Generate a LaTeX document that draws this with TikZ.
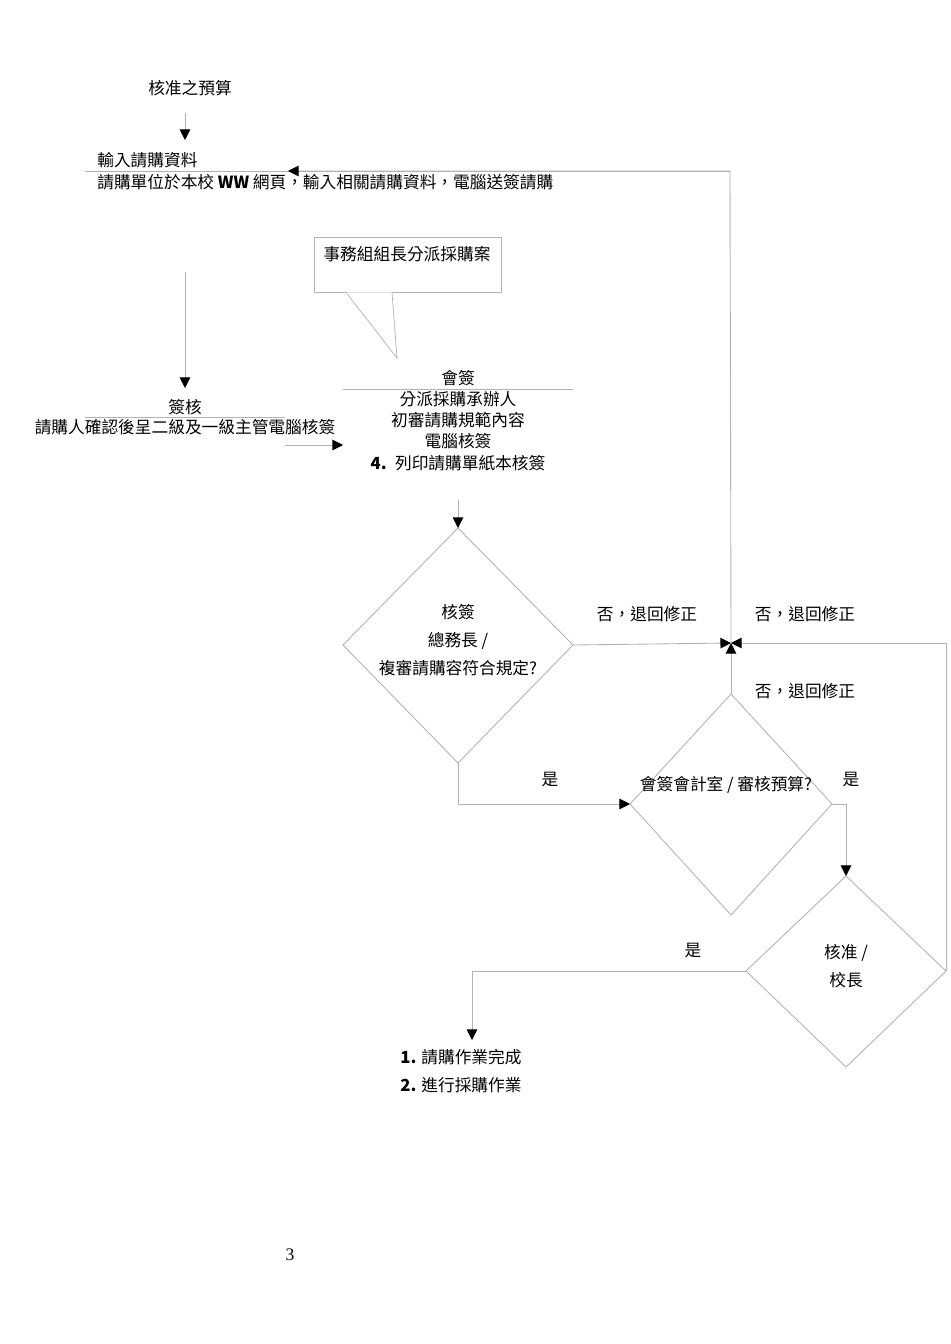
\documentclass[tikz,border=0pt]{standalone}
\usepackage{fontspec}
\setmainfont{Noto Sans CJK TC}
\newfontfamily\pagenum{Liberation Serif}
\usetikzlibrary{positioning,arrows.meta}

\begin{document}
\begin{tikzpicture}[x=0.02cm,y=-0.02cm,
txtnode/.style={inner sep=0pt, font=\fontsize{9.5}{11}\selectfont},
flow/.style={draw=black!30, line width=0.5pt, -{Triangle[length=6pt,width=6pt,black]}},
plain/.style={draw=black!30, line width=0.5pt},
decision/.style={draw=black!30, line width=0.5pt},
]
\useasboundingbox (0,0) rectangle (950,1344);
%Nodes
\node[txtnode] (budget) at (190,88) {核准之預算};
\coordinate (budgetout) at (185,113);
\node[txtnode, anchor=west] (inputtitle) at (97,160) {輸入請購資料};
\node[txtnode, anchor=west] (inputtext) at (97,182) {請購單位於本校 \textbf{WW} 網頁，輸入相關請購資料，電腦送簽請購};
\coordinate (inputin) at (185,140);
\coordinate (inputout) at (185,272);
\coordinate (loopin) at (288,171);

\node[txtnode] (signtitle) at (185,407) {簽核};
\node[txtnode] (signtext) at (185,427) {請購人確認後呈二級及一級主管電腦核簽};
\coordinate (signin) at (185,388);

\node[draw=black!30, minimum width=187*0.02cm, minimum height=55*0.02cm, inner sep=0pt] (callout) at (407.5,264.5) {};
\node[txtnode] (callouttext) at (407,254) {事務組組長分派採購案};

\node[txtnode] (cosigntitle) at (458,378) {會簽};
\node[txtnode] (cosign1) at (458,399) {分派採購承辦人};
\node[txtnode] (cosign2) at (458,420) {初審請購規範內容};
\node[txtnode] (cosign3) at (458,441) {電腦核簽};
\node[txtnode] (cosign4) at (458,463) {\textbf{4.}\enspace 列印請購單紙本核簽};
\coordinate (cosignout) at (458,500);

%Decisions
\coordinate (dA-n) at (458,528); \coordinate (dA-w) at (343,645);
\coordinate (dA-e) at (573,645); \coordinate (dA-s) at (458,763);
\draw[decision] (dA-n) -- (dA-e) -- (dA-s) -- (dA-w) -- cycle;
\node[txtnode, align=center] (dAtext) at (458,640) {核簽\\[5pt]總務長 /\\[5pt]複審請購容符合規定?};

\coordinate (dB-n) at (731,694); \coordinate (dB-w) at (630,804);
\coordinate (dB-e) at (832,804); \coordinate (dB-s) at (731,915);
\draw[decision] (dB-n) -- (dB-e) -- (dB-s) -- (dB-w) -- cycle;
\node[txtnode] (dBtext) at (726,785) {會簽會計室 / 審核預算?};

\coordinate (dC-n) at (846,876); \coordinate (dC-w) at (746,971);
\coordinate (dC-e) at (946,971); \coordinate (dC-s) at (846,1067);
\draw[decision] (dC-n) -- (dC-e) -- (dC-s) -- (dC-w) -- cycle;
\node[txtnode, align=center] (dCtext) at (846,966) {核准 /\\[5pt]校長};

\coordinate (merge) at (731,643);
\node[txtnode, align=left, anchor=north west] (done) at (400,1049) {\textbf{1.} 請購作業完成\\[5pt]\textbf{2.} 進行採購作業};
\coordinate (donein) at (472,1040);

%Labels
\node[txtnode] (noA) at (647,614) {否，退回修正};
\node[txtnode] (noC) at (805,614) {否，退回修正};
\node[txtnode] (noB) at (805,691) {否，退回修正};
\node[txtnode] (yesA) at (550,780) {是};
\node[txtnode] (yesB) at (851,780) {是};
\node[txtnode] (yesC) at (693,950) {是};
\node[inner sep=0pt, font=\pagenum\fontsize{10}{12}\selectfont] (page) at (290,1255) {3};

%Lines
\draw[flow] (budgetout) -- (inputin);
\draw[plain] (85,171) -- (730,171);
\draw[flow] (merge) -- (730,171) -- (loopin);
\draw[flow] (inputout) -- (signin);
\draw[plain] (85,417) -- (285,417);
\draw[flow] (285,445) -- (343,445);
\draw[plain] (343,389) -- (573,389);
\draw[draw=black!30, fill=white] (346,292.5) -- (397,358) -- (392,292.5);
\draw[flow] (cosignout) -- (dA-n);
\draw[flow] (dA-e) -- (merge);
\draw[flow] (dA-s) -- (458,804) -- (dB-w);
\draw[flow] (dB-n) -- (merge);
\draw[flow] (dB-e) -- (846,804) -- (dC-n);
\draw[flow] (dC-e) -- (946,643) -- (merge);
\draw[flow] (dC-w) -- (472,971) -- (donein);
\end{tikzpicture}
\end{document}
